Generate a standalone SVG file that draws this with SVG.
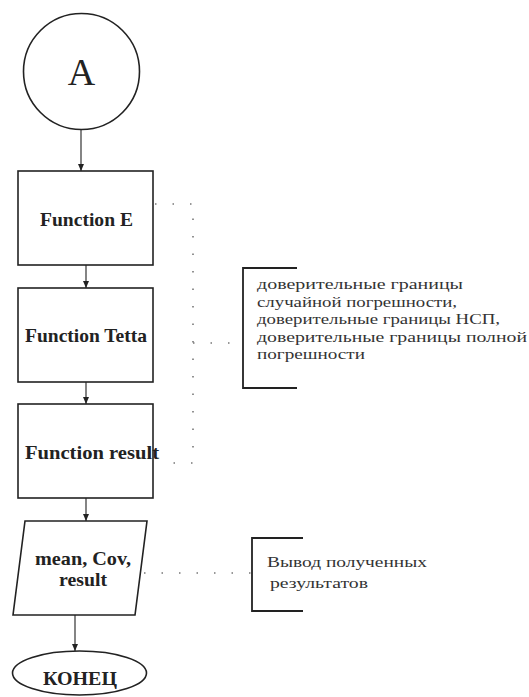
<svg xmlns="http://www.w3.org/2000/svg" width="529" height="697" viewBox="0 0 529 697">
<style>
.shape{fill:#fff;stroke:#222;stroke-width:1.6}
.flow{stroke:#333;stroke-width:1.2;fill:none;marker-end:url(#ah)}
.dot{stroke:#777;stroke-width:1.6;fill:none;stroke-dasharray:1.5 16}
.brk{stroke:#222;stroke-width:1.8;fill:none}
.b{font-family:"Liberation Serif","Times New Roman","DejaVu Serif",serif;font-weight:bold;fill:#222;font-size:19px}
.n{font-family:"Liberation Serif","Times New Roman","DejaVu Serif",serif;fill:#333;font-size:15px}
.t{font-family:"Liberation Serif","Times New Roman","DejaVu Serif",serif;fill:#222;font-size:38px;text-anchor:middle}
</style>
<defs>
<marker id="ah" markerWidth="8" markerHeight="8" refX="7" refY="4" orient="auto" markerUnits="userSpaceOnUse">
<path d="M0,1 L7,4 L0,7 Z" fill="#222"/>
</marker>
</defs>
<rect width="529" height="697" fill="#fff"/>
<g id="connectors">
<line class="flow" x1="81" y1="130" x2="81" y2="171"/>
<line class="flow" x1="86" y1="265" x2="86" y2="288"/>
<line class="flow" x1="86" y1="382" x2="86" y2="404"/>
<line class="flow" x1="86" y1="498" x2="86" y2="521"/>
<line class="flow" x1="75" y1="615" x2="75" y2="651"/>
<path class="dot" d="M155,204 H193 V463 H158"/>
<line class="dot" x1="193" y1="343" x2="243" y2="343"/>
<line class="dot" x1="144" y1="573" x2="252" y2="573"/>
</g>
<g id="start">
<circle class="shape" cx="81.5" cy="71.5" r="58"/>
<text class="t" x="81.5" y="85">A</text>
</g>
<g id="funcE">
<rect class="shape" x="18" y="171" width="135" height="94"/>
<text class="b" x="40" y="226" textLength="93" lengthAdjust="spacingAndGlyphs">Function E</text>
</g>
<g id="funcTetta">
<rect class="shape" x="18" y="288" width="135" height="94"/>
<text class="b" x="25" y="342" textLength="122" lengthAdjust="spacingAndGlyphs">Function Tetta</text>
</g>
<g id="funcResult">
<rect class="shape" x="18" y="404" width="135" height="94"/>
<text class="b" x="25" y="459" textLength="134" lengthAdjust="spacingAndGlyphs">Function result</text>
</g>
<g id="output">
<polygon class="shape" points="25,521 147,521 135,615 13,615"/>
<text class="b" x="35" y="565" textLength="96" lengthAdjust="spacingAndGlyphs">mean, Cov,</text>
<text class="b" x="59" y="586" textLength="48" lengthAdjust="spacingAndGlyphs">result</text>
</g>
<g id="end">
<ellipse class="shape" cx="79.5" cy="673" rx="67" ry="22"/>
<text class="b" x="43" y="685" textLength="74" lengthAdjust="spacingAndGlyphs">КОНЕЦ</text>
</g>
<g id="note1">
<path class="brk" d="M297,268 H243 V388 H297"/>
<text class="n" x="257" y="289" textLength="206" lengthAdjust="spacingAndGlyphs">доверительные границы</text>
<text class="n" x="257" y="306.5" textLength="200" lengthAdjust="spacingAndGlyphs">случайной погрешности,</text>
<text class="n" x="257" y="324" textLength="243" lengthAdjust="spacingAndGlyphs">доверительные границы НСП,</text>
<text class="n" x="257" y="341.5" textLength="270" lengthAdjust="spacingAndGlyphs">доверительные границы полной</text>
<text class="n" x="257" y="359" textLength="108" lengthAdjust="spacingAndGlyphs">погрешности</text>
</g>
<g id="note2">
<path class="brk" d="M303,538 H252 V611 H303"/>
<text class="n" x="267" y="567" textLength="160" lengthAdjust="spacingAndGlyphs">Вывод полученных</text>
<text class="n" x="270" y="588" textLength="98" lengthAdjust="spacingAndGlyphs">результатов</text>
</g>
</svg>
